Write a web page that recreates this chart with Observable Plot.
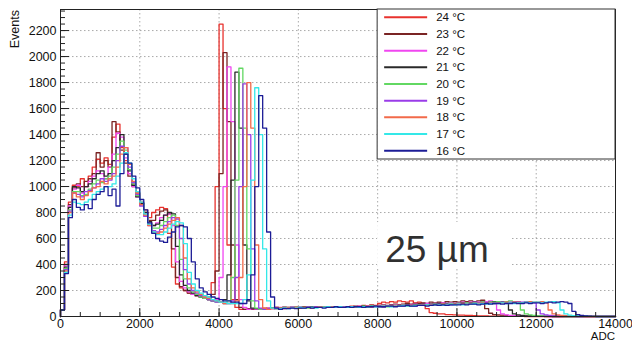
<!DOCTYPE html>
<html><head><meta charset="utf-8">
<script src="https://cdn.jsdelivr.net/npm/d3@7"></script>
<script src="https://cdn.jsdelivr.net/npm/@observablehq/plot@0.6"></script>
<style>body{margin:0;background:#fff} svg{display:block}</style>
</head><body><div id="chart"></div>
<script>
// Histogram bin width (ADC) – each array holds counts for bins starting at 0,100,200,...
const binWidth = 100;
const seriesNames = ["24 °C","23 °C","22 °C","21 °C","20 °C","19 °C","18 °C","17 °C","16 °C"];
const seriesColors = ["#e8322e","#7a2424","#f046f0","#2a2a2a","#62d862","#9a3ce8","#f26a4a","#34e8e8","#1c1c96"];
const xTicks = [0,2000,4000,6000,8000,10000,12000,14000];
const yTicks = [0,200,400,600,800,1000,1200,1400,1600,1800,2000,2200];
const annotation = "25 \u00b5m";

const s24 = [
 50,420,880,1010,1000,1060,1000,1080,1150,1210,
 1180,1220,1170,1380,1480,1300,1200,1100,1020,950,
 880,820,760,800,820,840,830,640,380,250,
 220,200,180,170,160,150,140,150,260,1000,
 2250,1600,550,130,70,55,55,60,55,60,
 60,65,60,65,70,65,70,70,65,70,
 70,75,70,70,75,70,75,70,75,70,
 75,70,75,80,75,80,85,80,90,85,
 100,110,105,115,110,120,115,110,120,105,
 110,100,60,30,25,20,20,15,15,12,
 10,10,8,8,6,5,5,4,3,3,
 2,2,2,1,1,1,1,0,0,0,
 0,0,0,0,0,0,0,0,0,0,
 0,0,0,0,0,0,0,0,0,0];
const s23 = [
 50,400,860,990,1020,1000,1040,1060,1100,1260,
 1150,1200,1150,1500,1420,1280,1180,1080,1000,930,
 870,800,740,740,780,810,820,790,520,300,
 230,200,180,170,160,150,140,130,170,350,
 1100,2030,1500,550,130,70,55,60,55,60,
 60,60,65,65,70,65,70,65,70,70,
 70,75,70,75,70,75,70,75,70,75,
 75,70,75,75,80,75,80,80,85,80,
 85,90,85,90,95,90,95,100,95,100,
 100,105,100,110,105,110,105,115,110,115,
 110,120,115,120,110,120,125,60,25,15,
 12,10,8,6,5,4,3,2,2,1,
 1,1,0,0,0,0,0,0,0,0,
 0,0,0,0,0,0,0,0,0,0];
const s22 = [
 50,390,850,980,1010,950,1000,1040,1080,1120,
 1100,1060,1150,1250,1410,1380,1220,1100,1000,920,
 860,790,720,700,720,760,780,790,700,420,
 270,220,190,170,160,150,140,130,120,130,
 300,1000,1920,1500,550,130,70,55,60,55,
 60,60,65,60,65,70,65,70,70,65,
 70,70,75,70,70,75,70,75,70,75,
 70,75,75,70,75,80,75,80,75,80,
 80,85,80,85,90,85,90,85,90,95,
 90,95,100,95,100,95,105,100,105,100,
 105,110,105,110,115,110,105,115,120,110,
 50,20,12,8,6,5,4,3,2,2,
 1,1,1,0,0,0,0,0,0,0,
 0,0,0,0,0,0,0,0,0,0];
const s21 = [
 50,380,840,1000,990,960,1000,1020,1060,1100,
 1120,1080,1100,1200,1300,1400,1250,1120,1010,920,
 870,800,730,700,710,740,780,800,790,540,
 320,240,200,180,160,150,140,130,120,120,
 110,130,320,1050,1880,1450,550,120,65,60,
 55,60,60,65,60,65,70,65,70,70,
 65,70,70,75,70,70,75,70,75,70,
 75,70,75,75,70,75,80,75,75,80,
 80,75,80,85,80,85,85,90,85,90,
 90,95,90,95,95,100,95,100,95,100,
 100,105,100,105,110,105,110,105,110,115,
 110,115,110,50,20,12,8,5,4,3,
 2,2,1,1,0,0,0,0,0,0,
 0,0,0,0,0,0,0,0,0,0];
const s20 = [
 50,370,820,960,960,930,940,980,1020,1050,
 1030,1060,1080,1150,1250,1350,1280,1130,1020,930,
 860,780,710,680,680,700,730,760,780,700,
 440,290,220,190,170,150,140,130,120,110,
 110,100,120,300,1050,1910,1450,520,120,65,
 55,60,60,65,60,65,65,70,65,70,
 70,70,65,70,75,70,75,70,70,75,
 70,75,75,70,75,75,80,75,80,75,
 80,80,75,80,85,80,85,85,80,85,
 90,85,90,90,95,90,95,95,100,95,
 100,100,105,100,105,105,110,105,110,110,
 115,110,115,120,115,110,50,20,12,8,
 5,4,3,2,2,1,1,0,0,0,
 0,0,0,0,0,0,0,0,0,0];
const s19 = [
 50,360,810,950,940,920,960,970,990,1020,
 1060,1040,1050,1100,1200,1310,1300,1150,1030,940,
 850,770,700,660,650,670,700,730,760,750,
 600,360,250,200,180,160,150,130,120,110,
 110,100,100,120,300,1000,1790,1400,520,120,
 65,55,60,60,65,60,65,65,70,65,
 70,65,70,70,75,70,70,75,70,75,
 70,75,70,75,75,70,75,80,75,75,
 80,75,80,80,85,80,80,85,85,80,
 85,90,85,90,90,95,90,95,90,95,
 95,100,95,100,100,105,100,105,105,100,
 105,110,105,110,110,115,110,115,110,105,
 50,20,12,8,5,4,3,2,1,1,
 0,0,0,0,0,0,0,0,0,0];
const s18 = [
 50,350,800,950,920,900,930,960,990,1000,
 1040,1020,1060,1080,1150,1250,1300,1170,1040,950,
 860,780,700,650,640,650,680,710,740,760,
 700,450,290,220,190,170,150,140,130,120,
 110,100,100,100,120,300,1000,1800,1450,550,
 130,65,55,60,60,65,60,65,65,70,
 65,70,70,65,70,75,70,70,75,70,
 75,70,75,75,70,75,75,80,75,80,
 75,80,80,80,85,80,85,80,85,85,
 85,90,85,90,90,90,95,90,95,95,
 95,100,95,100,100,100,105,100,105,100,
 105,105,110,105,110,110,105,110,115,110,
 110,115,105,50,20,12,8,5,3,2,
 1,1,0,0,0,0,0,0,0,0];
const s17 = [
 50,340,780,880,870,860,880,900,940,960,
 980,1000,1000,1020,1080,1180,1260,1180,1060,960,
 880,790,710,650,630,630,650,680,710,730,
 720,560,340,250,200,180,160,150,130,120,
 110,110,100,100,100,100,130,320,1050,1760,
 1400,520,120,65,60,60,65,60,65,65,
 70,65,70,70,65,70,70,75,70,70,
 75,70,70,75,75,70,75,75,80,75,
 75,80,80,75,80,80,85,80,80,85,
 85,85,90,85,90,90,85,90,95,90,
 95,90,95,95,100,95,100,95,100,100,
 100,105,100,105,100,105,105,110,105,110,
 110,105,110,110,115,105,50,20,10,6,
 4,3,2,1,1,0,0,0,0,0];
const s16 = [
 50,330,760,900,840,820,860,830,900,940,
 960,1000,930,980,850,1100,1250,1180,1080,990,
 900,820,720,640,600,580,570,610,650,690,
 700,690,600,420,290,220,190,170,150,140,
 130,120,120,110,110,100,100,130,320,1000,
 1700,1450,650,150,65,55,60,60,65,60,
 65,65,70,65,70,70,65,70,70,75,
 70,70,75,70,75,75,70,75,75,80,
 75,75,80,80,75,80,80,85,80,80,
 85,85,80,85,90,85,90,85,90,90,
 90,95,90,95,95,90,95,100,95,100,
 100,95,100,100,105,100,100,105,100,105,
 105,100,105,110,105,110,115,110,100,40,
 15,8,4,2,1,0,0,0,0,0];

const seriesValues = [s24,s23,s22,s21,s20,s19,s18,s17,s16];

// Build step-histogram points
const rows = [];
seriesValues.forEach((vals, j) => {
  const name = seriesNames[j];
  rows.push({name, x: 0, y: 0});
  vals.forEach((v, i) => rows.push({name, x: i * binWidth, y: v}));
  rows.push({name, x: vals.length * binWidth, y: vals[vals.length - 1]});
});

const xMinor = d3.range(0, 14001, 500);
const yMinor = d3.range(0, 2351, 50);
const font = "'Liberation Sans', Arial, Helvetica, sans-serif";

const chart = Plot.plot({
  width: 632, height: 343,
  marginLeft: 60, marginRight: 17, marginTop: 9, marginBottom: 27,
  style: {fontFamily: font, fontSize: "12.5px", color: "#111", background: "#fff"},
  x: {domain: [0, 14000], label: null},
  y: {domain: [0, 2362], label: null},
  color: {domain: seriesNames, range: seriesColors},
  marks: [
    Plot.gridX(xTicks.slice(1, -1), {stroke: "#888", strokeOpacity: 0.9, strokeDasharray: "1.5,2.5", strokeWidth: 0.8}),
    Plot.gridY(yTicks.slice(1), {stroke: "#888", strokeOpacity: 0.9, strokeDasharray: "1.5,2.5", strokeWidth: 0.8}),
    Plot.line(rows, {x: "x", y: "y", z: "name", stroke: "name", curve: "step-after", strokeWidth: 1.3}),
    Plot.axisX(xTicks, {tickSize: 0, tickPadding: 3, label: null, tickFormat: d => String(d)}),
    Plot.axisX(xTicks, {tickSize: -8, text: null, label: null, stroke: "#222"}),
    Plot.axisX(xMinor, {tickSize: -4, text: null, label: null, stroke: "#222"}),
    Plot.axisY(yTicks, {tickSize: 0, tickPadding: 4, label: null, tickFormat: d => String(d)}),
    Plot.axisY(yTicks, {tickSize: -9, text: null, label: null, stroke: "#222"}),
    Plot.axisY(yMinor, {tickSize: -5, text: null, label: null, stroke: "#222"}),
    Plot.frame({stroke: "#222", strokeWidth: 1})
  ]
});
document.getElementById("chart").appendChild(chart);

const svg = d3.select(chart);
const xs = chart.scale("x"), ys = chart.scale("y");

// Axis titles
svg.append("text").attr("transform", "translate(19,10) rotate(-90)")
  .attr("text-anchor", "end").attr("font-family", font).attr("font-size", 12.5)
  .attr("fill", "#111").text("Events");
svg.append("text").attr("x", xs.apply(14000)).attr("y", 340)
  .attr("text-anchor", "end").attr("font-family", font).attr("font-size", 11.5)
  .attr("fill", "#111").text("ADC");

// "25 µm" label box
const boxX = xs.apply(8000), boxY = 222;
svg.append("rect").attr("x", boxX).attr("y", boxY).attr("width", 134).attr("height", 45).attr("fill", "#fff");
svg.append("text").attr("x", boxX + 8).attr("y", 262).attr("text-anchor", "start")
  .attr("font-family", font).attr("font-size", 37)
  .attr("fill", "#1a1a1a").attr("opacity", 0.9).text(annotation);

// Legend box
const lgX = xs.apply(8000), lgY = ys.apply(2362), lgW = xs.apply(14000) - lgX, lgH = 150;
const lg = svg.append("g");
lg.append("rect").attr("x", lgX).attr("y", lgY).attr("width", lgW).attr("height", lgH)
  .attr("fill", "#fff").attr("stroke", "#333").attr("stroke-width", 1);
seriesNames.forEach((name, i) => {
  const cy = lgY + 8.3 + i * 16.67;
  lg.append("line").attr("x1", lgX + 7).attr("x2", lgX + 50).attr("y1", cy).attr("y2", cy)
    .attr("stroke", seriesColors[i]).attr("stroke-width", 2);
  lg.append("text").attr("x", lgX + 59).attr("y", cy).attr("dy", "0.36em").attr("text-anchor", "start")
    .attr("font-family", font).attr("font-size", 11.5).attr("fill", "#111").text(name);
});
</script>
</body></html>
